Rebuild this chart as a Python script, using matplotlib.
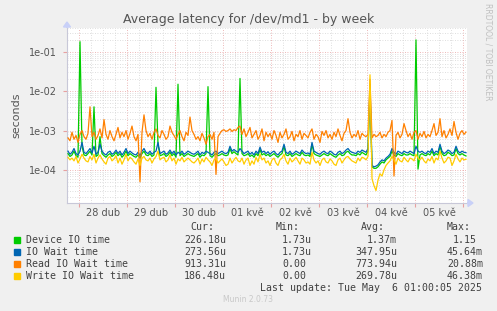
import numpy as np
import matplotlib
matplotlib.use("Agg")
import matplotlib.pyplot as plt
from matplotlib.patches import Rectangle, FancyArrow

# ---- data (microseconds), one sample per hour starting 27 Apr 18:00 ----
device_io = [260, 220, 240, 300, 230, 210, 180000, 400, 240, 230, 260, 300, 240, 4000, 220, 240, 700, 260, 230, 210,
             240, 260, 220, 240, 280, 230, 260, 210, 240, 300, 230, 260, 240, 220, 210, 240, 200, 260, 300, 240,
             230, 260, 220, 240, 12500, 450, 230, 240, 260, 220, 240, 280, 230, 260, 210, 15000, 230, 260, 220, 240,
             260, 240, 230, 220, 240, 260, 210, 240, 230, 260, 13000, 230, 210, 240, 260, 230, 240, 260, 240, 230,
             240, 350, 260, 290, 260, 240, 21000, 260, 230, 240, 260, 220, 240, 210, 260, 230, 330, 240, 260, 230,
             250, 220, 240, 260, 230, 210, 240, 260, 400, 240, 230, 260, 220, 240, 260, 240, 230, 280, 240, 230,
             240, 220, 450, 260, 240, 230, 220, 240, 260, 240, 230, 260, 240, 220, 210, 240, 260, 230, 240, 280,
             300, 260, 240, 240, 230, 260, 240, 280, 260, 240, 300, 10000, 120, 110, 110, 120, 140, 160, 150, 180,
             200, 220, 300, 240, 220, 260, 240, 230, 260, 240, 240, 260, 240, 230, 200000, 105, 240, 260, 240, 230,
             260, 240, 300, 230, 260, 240, 400, 260, 230, 240, 280, 260, 230, 240, 350, 260, 240, 260, 240, 226]
io_wait = [300, 250, 280, 350, 260, 240, 300, 500, 280, 260, 300, 350, 270, 400, 250, 280, 450, 300, 260, 240,
           280, 300, 250, 270, 320, 260, 300, 240, 280, 350, 260, 300, 270, 250, 240, 280, 230, 300, 350, 280,
           260, 300, 250, 280, 300, 500, 260, 280, 300, 250, 270, 320, 260, 300, 240, 280, 260, 300, 250, 270,
           300, 280, 260, 250, 270, 300, 240, 280, 260, 300, 280, 260, 240, 280, 300, 260, 280, 300, 270, 260,
           280, 400, 300, 330, 300, 280, 350, 300, 260, 280, 300, 250, 280, 240, 300, 260, 380, 280, 300, 260,
           290, 250, 280, 300, 260, 240, 280, 300, 450, 280, 260, 300, 250, 270, 300, 280, 260, 320, 280, 260,
           270, 250, 500, 300, 280, 260, 250, 280, 300, 270, 260, 300, 280, 250, 240, 280, 300, 260, 280, 320,
           350, 300, 280, 270, 260, 300, 280, 320, 300, 280, 350, 15000, 130, 120, 125, 135, 160, 180, 170, 200,
           220, 250, 350, 280, 250, 300, 280, 260, 300, 280, 270, 300, 280, 260, 400, 300, 280, 300, 270, 260,
           300, 280, 350, 260, 300, 280, 450, 300, 260, 280, 320, 300, 260, 280, 400, 300, 270, 300, 280, 274]
read_wait = [650, 550, 900, 600, 750, 500, 800, 1000, 700, 600, 850, 4000, 700, 900, 600, 750, 1100, 650, 1900, 800,
             600, 1000, 700, 550, 800, 1200, 650, 900, 700, 1000, 600, 850, 1300, 700, 550, 800, 50, 900, 2500, 1000,
             700, 850, 600, 900, 1100, 750, 650, 1000, 800, 600, 700, 1300, 900, 750, 600, 800, 1000, 700, 550, 900,
             750, 2200, 1000, 800, 600, 700, 550, 850, 650, 450, 700, 800, 600, 900, 77, 700, 850, 1000, 1050, 950,
             1000, 1100, 950, 1050, 1000, 1200, 1300, 800, 1100, 700, 900, 1200, 650, 800, 1000, 600, 750, 1100, 550, 900,
             700, 850, 600, 1000, 750, 500, 900, 650, 800, 1100, 600, 700, 950, 550, 800, 700, 1000, 600, 850, 750,
             650, 900, 1100, 600, 800, 700, 500, 950, 750, 1000, 650, 800, 600, 900, 700, 1100, 750, 550, 850, 1000,
             2000, 900, 650, 800, 700, 1000, 600, 850, 750, 700, 800, 20000, 650, 800, 700, 750, 900, 650, 800, 700,
             900, 1000, 1800, 70, 750, 900, 650, 800, 1500, 1000, 700, 850, 600, 900, 1000, 600, 850, 700, 950, 650,
             800, 700, 1000, 1500, 750, 900, 2000, 700, 1000, 650, 800, 1100, 750, 1700, 900, 600, 850, 1000, 800, 913]
write_wait = [210, 180, 200, 170, 220, 150, 190, 250, 200, 170, 160, 220, 180, 250, 150, 200, 240, 190, 160, 140,
              200, 220, 170, 190, 230, 150, 200, 140, 180, 250, 170, 210, 190, 160, 140, 190, 130, 200, 220, 180,
              170, 200, 150, 190, 220, 300, 180, 200, 210, 160, 180, 240, 170, 200, 140, 190, 170, 210, 160, 180,
              200, 180, 160, 150, 170, 200, 140, 190, 160, 210, 180, 160, 130, 180, 200, 150, 170, 190, 160, 130,
              140, 200, 150, 180, 210, 170, 160, 200, 140, 180, 200, 130, 170, 140, 210, 160, 250, 180, 200, 150,
              170, 130, 180, 200, 150, 130, 180, 200, 250, 170, 140, 200, 160, 180, 210, 170, 140, 200, 180, 150,
              160, 140, 280, 180, 150, 170, 130, 180, 200, 160, 150, 190, 170, 140, 130, 180, 200, 150, 180, 210,
              220, 190, 170, 160, 150, 200, 170, 210, 200, 180, 220, 26000, 60, 40, 30, 55, 80, 70, 100, 130,
              150, 170, 220, 180, 140, 200, 170, 160, 210, 180, 160, 200, 190, 170, 250, 200, 180, 210, 170, 150,
              190, 170, 220, 150, 200, 180, 300, 200, 150, 170, 210, 200, 130, 170, 250, 190, 160, 200, 180, 186]

series_names = ["Device IO time", "IO Wait time", "Read IO Wait time", "Write IO Wait time"]
series_colors = ["#00CC00", "#0066B3", "#FF8000", "#FFCC00"]
cur_vals = ["226.18u", "273.56u", "913.31u", "186.48u"]
min_vals = ["1.73u", "1.73u", "0.00", "0.00"]
avg_vals = ["1.37m", "347.95u", "773.94u", "269.78u"]
max_vals = ["1.15", "45.64m", "20.88m", "46.38m"]
day_labels = ["28 dub", "29 dub", "30 dub", "01 kvě", "02 kvě", "03 kvě", "04 kvě", "05 kvě"]

W, H = 497, 311
fig = plt.figure(figsize=(W / 100, H / 100), dpi=100, facecolor="#F0F0F0")

def px(x, y):
    return x / W, 1 - y / H

L, R, T, B = 67, 467, 28, 203
ax = fig.add_axes([L / W, 1 - B / H, (R - L) / W, (B - T) / H])
ax.set_facecolor("white")

hours = np.arange(len(device_io)) + 0.5
for vals, col in zip([device_io, io_wait, read_wait, write_wait], series_colors):
    ax.plot(hours, np.array(vals) * 1e-6, color=col, lw=0.9, zorder=3)

ax.set_yscale("log")
ax.set_ylim(1.45e-5, 0.4)
ax.set_xlim(0, 200)

ax.set_yticks([1e-4, 1e-3, 1e-2, 1e-1])
ax.set_yticklabels(["1e-04", "1e-03", "1e-02", "1e-01"])
ax.yaxis.set_minor_locator(matplotlib.ticker.LogLocator(base=10, subs=np.arange(2, 10)))
ax.yaxis.set_minor_formatter(matplotlib.ticker.NullFormatter())

day_bounds = np.arange(6, 200, 24)
ax.set_xticks(day_bounds)
ax.set_xticklabels([""] * len(day_bounds))
ax.set_xticks(np.arange(0, 201, 6), minor=True)
for i, lab in enumerate(day_labels):
    ax.text(18 + 24 * i, -0.055, lab, transform=ax.get_xaxis_transform(),
            ha="center", va="center", fontsize=7, color="#555555")

ax.grid(True, which="minor", color="#d4d4d4", linestyle=(0, (1, 2)), lw=0.6, zorder=1)
ax.grid(True, which="major", color="#e8a0a0", linestyle=(0, (1, 2)), lw=0.6, zorder=1)
ax.tick_params(which="major", length=3, color="#e8a0a0", labelsize=7, labelcolor="#555555", pad=4)
ax.tick_params(which="minor", length=0)

for s in ["top", "right"]:
    ax.spines[s].set_visible(False)
for s in ["left", "bottom"]:
    ax.spines[s].set_color("#c8c8d8")
    ax.spines[s].set_linewidth(0.8)

ax.set_ylabel("seconds", fontsize=8, color="#555555", labelpad=6)

fig.patches.append(FancyArrow(*px(L, T), 0, 6 / H, width=0.0, head_width=7 / W,
                   head_length=5 / H, length_includes_head=True, color="#c8d0f8", transform=fig.transFigure))
fig.patches.append(FancyArrow(*px(R, B), 6 / W, 0, width=0.0, head_width=7 / H,
                   head_length=5 / W, length_includes_head=True, color="#c8d0f8", transform=fig.transFigure))

fig.text(*px(248.5, 19), "Average latency for /dev/md1 - by week", ha="center", va="center",
         fontsize=9, color="#555555")
fig.text(*px(488, 52), "RRDTOOL / TOBI OETIKER", rotation=270, ha="center", va="center",
         fontsize=5.5, color="#c0c0c0")

mono = "DejaVu Sans Mono"
fs = 7.1
tc = "#404040"
cw = 5.96
for txt, x in [("Cur:", 190), ("Min:", 276), ("Avg:", 361), ("Max:", 446.7)]:
    fig.text(*px(x, 227.5), txt, fontsize=fs, family=mono, color=tc, va="center")

def rx(right, s):
    return right if s[-1].isalpha() else right - cw

for i, name in enumerate(series_names):
    y = 239.7 + 12 * i
    fig.patches.append(Rectangle(px(14, y + 3), 6 / W, 6 / H, transform=fig.transFigure,
                                 color=series_colors[i]))
    fig.text(*px(26, y), name, fontsize=fs, family=mono, color=tc, va="center")
    for vals, right in [(cur_vals, 226), (min_vals, 312), (avg_vals, 397), (max_vals, 483)]:
        fig.text(*px(rx(right, vals[i]), y), vals[i], fontsize=fs, family=mono, color=tc,
                 va="center", ha="right")

fig.text(*px(482.5, 287.7), "Last update: Tue May  6 01:00:05 2025", fontsize=fs, family=mono,
         color=tc, va="center", ha="right")
fig.text(*px(248, 300), "Munin 2.0.73", fontsize=5.5, color="#c8c8c8", ha="center", va="center")

fig.savefig("out.png", dpi=100, facecolor=fig.get_facecolor())
